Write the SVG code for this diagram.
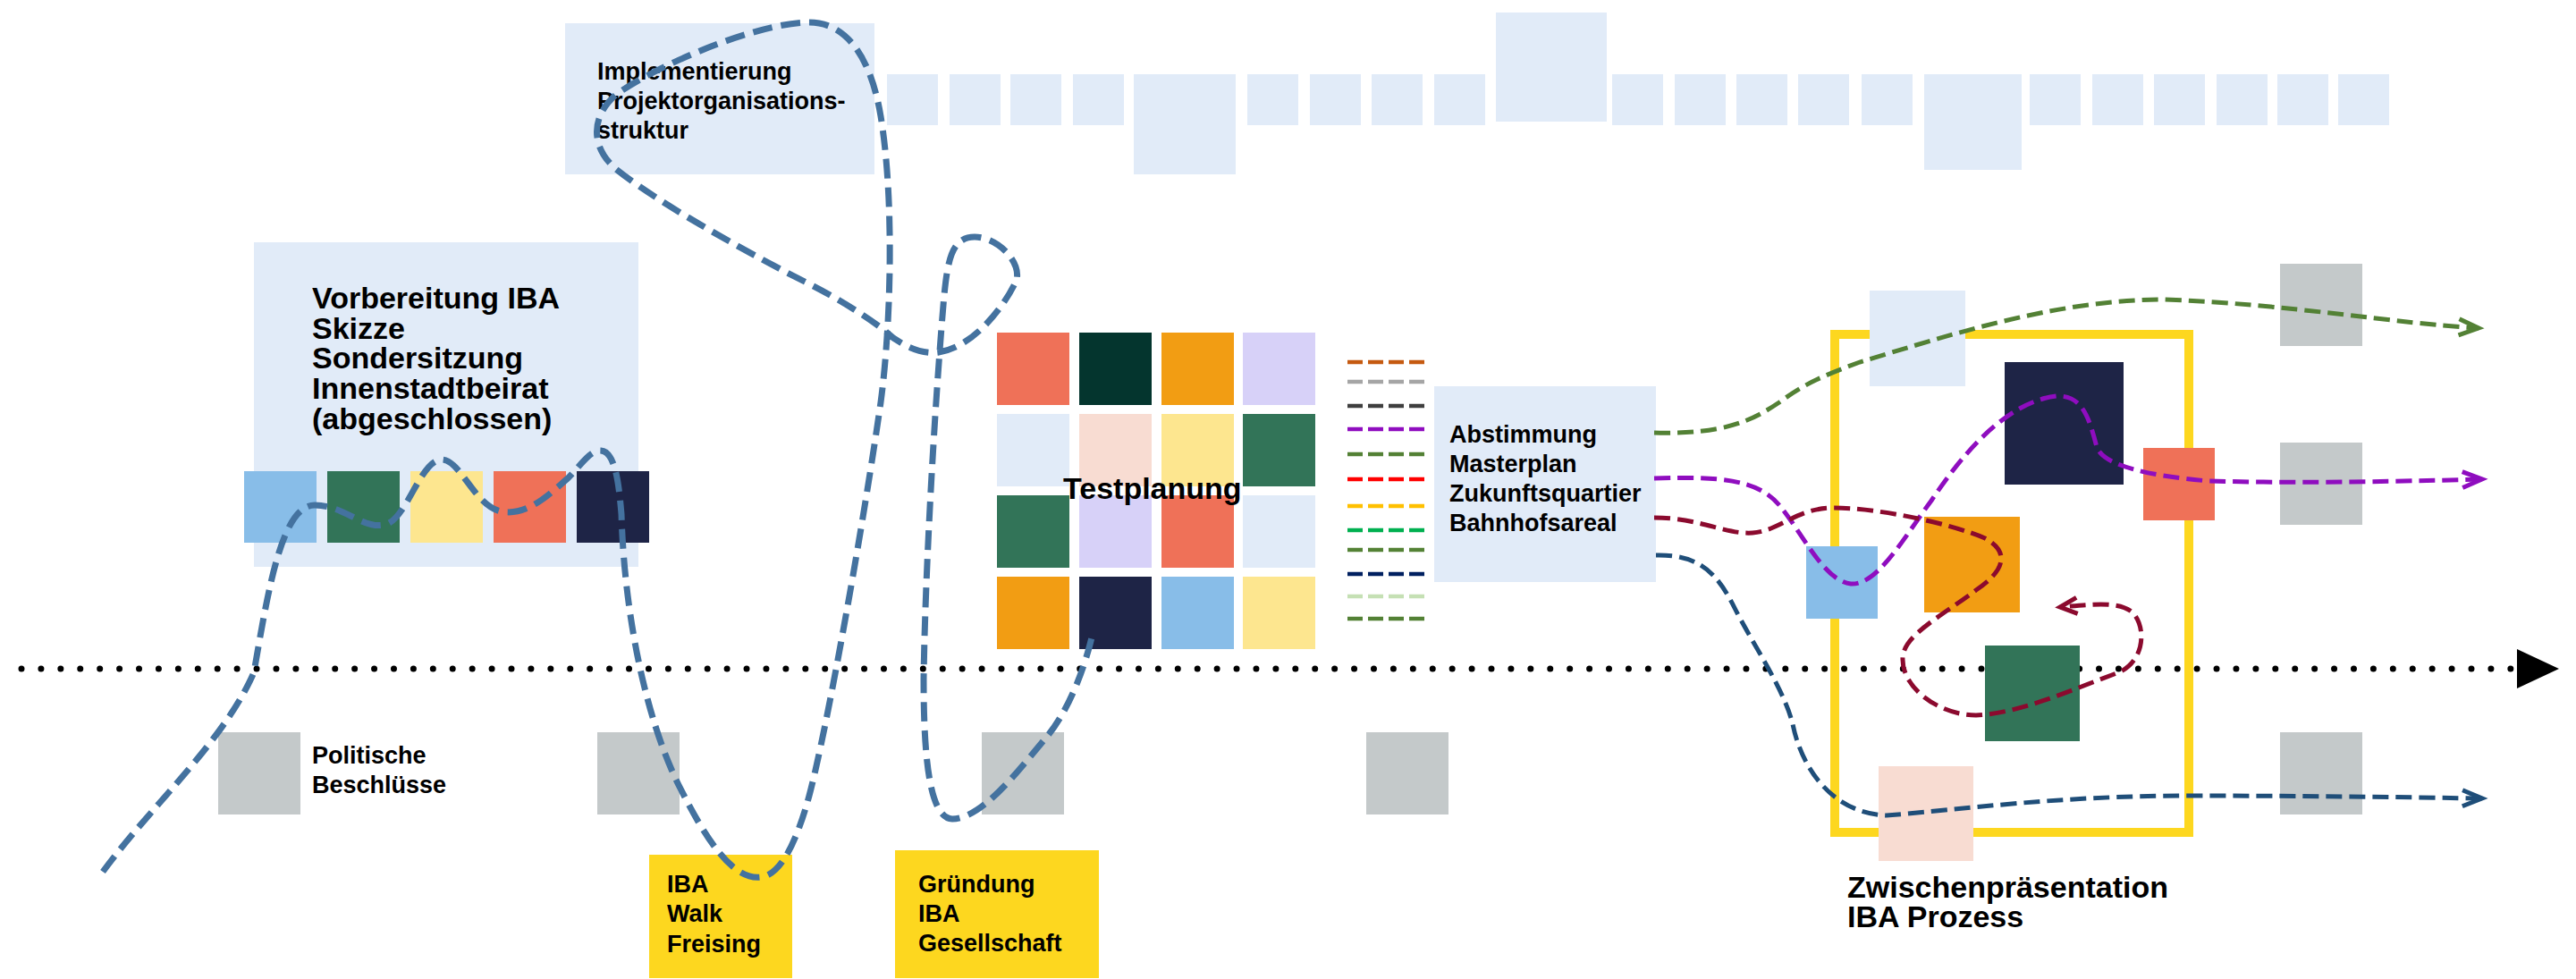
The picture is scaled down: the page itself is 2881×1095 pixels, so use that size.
<svg xmlns="http://www.w3.org/2000/svg" width="2881" height="1095" viewBox="0 0 2881 1095">
<style>
.lb{fill:#E1EBF8}
.gr{fill:#C4C9CA}
.yl{fill:#FDD71F}
.t{font-family:"Liberation Sans",Arial,sans-serif;font-weight:700;fill:#000}
.s{font-size:27px}
.b{font-size:34px}
.lg{fill:none;stroke-width:4.5;stroke-dasharray:17 6}
.cv{fill:none;stroke-width:5;stroke-dasharray:18 8}
</style>
<defs>
<marker id="ah-green" markerUnits="userSpaceOnUse" orient="auto" refX="0" refY="0" markerWidth="30" markerHeight="30" viewBox="-25 -15 30 30" overflow="visible"><path d="M-22,-9 L0,0 L-22,9" fill="none" stroke="#538135" stroke-width="5"/></marker>
<marker id="ah-purple" markerUnits="userSpaceOnUse" orient="auto" refX="0" refY="0" markerWidth="30" markerHeight="30" viewBox="-25 -15 30 30" overflow="visible"><path d="M-22,-9 L0,0 L-22,9" fill="none" stroke="#8F0DBF" stroke-width="5"/></marker>
<marker id="ah-red" markerUnits="userSpaceOnUse" orient="auto" refX="0" refY="0" markerWidth="30" markerHeight="30" viewBox="-25 -15 30 30" overflow="visible"><path d="M-19,-9 L0,0 L-19,9" fill="none" stroke="#8B0A2E" stroke-width="5"/></marker>
<marker id="ah-navy" markerUnits="userSpaceOnUse" orient="auto" refX="0" refY="0" markerWidth="30" markerHeight="30" viewBox="-25 -15 30 30" overflow="visible"><path d="M-22,-9 L0,0 L-22,9" fill="none" stroke="#1F4E79" stroke-width="5"/></marker>
</defs>
<rect width="2881" height="1095" fill="#fff"/>

<g id="top-squares" class="lb">
<rect x="992" y="83" width="57" height="57"/>
<rect x="1062" y="83" width="57" height="57"/>
<rect x="1130" y="83" width="57" height="57"/>
<rect x="1200" y="83" width="57" height="57"/>
<rect x="1268" y="83" width="114" height="112"/>
<rect x="1395" y="83" width="57" height="57"/>
<rect x="1465" y="83" width="57" height="57"/>
<rect x="1534" y="83" width="57" height="57"/>
<rect x="1604" y="83" width="57" height="57"/>
<rect x="1673" y="14" width="124" height="122"/>
<rect x="1803" y="83" width="57" height="57"/>
<rect x="1873" y="83" width="57" height="57"/>
<rect x="1942" y="83" width="57" height="57"/>
<rect x="2011" y="83" width="57" height="57"/>
<rect x="2082" y="83" width="57" height="57"/>
<rect x="2152" y="83" width="109" height="107"/>
<rect x="2270" y="83" width="57" height="57"/>
<rect x="2340" y="83" width="57" height="57"/>
<rect x="2409" y="83" width="57" height="57"/>
<rect x="2479" y="83" width="57" height="57"/>
<rect x="2547" y="83" width="57" height="57"/>
<rect x="2615" y="83" width="57" height="57"/>
</g>

<g id="implementierung">
<rect class="lb" x="632" y="26" width="346" height="169"/>
<text class="t s" x="668" y="89">Implementierung</text>
<text class="t s" x="668" y="122">Projektorganisations-</text>
<text class="t s" x="668" y="155">struktur</text>
</g>

<g id="vorbereitung">
<rect class="lb" x="284" y="271" width="430" height="363"/>
<text class="t b" x="349" y="345">Vorbereitung IBA</text>
<text class="t b" x="349" y="379">Skizze</text>
<text class="t b" x="349" y="412">Sondersitzung</text>
<text class="t b" x="349" y="446">Innenstadtbeirat</text>
<text class="t b" x="349" y="480">(abgeschlossen)</text>
</g>

<g id="timeline">
<line x1="24" y1="748" x2="2808" y2="748" stroke="#000" stroke-width="7" stroke-linecap="round" stroke-dasharray="0 21.92"/>
<polygon points="2815,726 2862,748 2815,770" fill="#000"/>
</g>

<g id="vorbereitung-squares">
<rect x="273" y="527" width="81" height="80" fill="#88BDE8"/>
<rect x="366" y="527" width="81" height="80" fill="#327458"/>
<rect x="459" y="527" width="81" height="80" fill="#FDE68F"/>
<rect x="552" y="527" width="81" height="80" fill="#EF7158"/>
<rect x="645" y="527" width="81" height="80" fill="#1E2446"/>
</g>

<g id="politische-beschluesse">
<rect class="gr" x="244" y="819" width="92" height="92"/>
<text class="t s" x="349" y="854">Politische</text>
<text class="t s" x="349" y="887">Beschlüsse</text>
</g>
<g id="gray-2"><rect class="gr" x="668" y="819" width="92" height="92"/></g>
<g id="gray-3"><rect class="gr" x="1098" y="819" width="92" height="92"/></g>
<g id="gray-4"><rect class="gr" x="1528" y="819" width="92" height="92"/></g>
<g id="gray-5"><rect class="gr" x="2550" y="295" width="92" height="92"/></g>
<g id="gray-6"><rect class="gr" x="2550" y="495" width="92" height="92"/></g>
<g id="gray-7"><rect class="gr" x="2550" y="819" width="92" height="92"/></g>

<g id="iba-walk">
<rect class="yl" x="726" y="956" width="160" height="138"/>
<text class="t s" x="746" y="998">IBA</text>
<text class="t s" x="746" y="1031">Walk</text>
<text class="t s" x="746" y="1065">Freising</text>
</g>

<g id="gruendung">
<rect class="yl" x="1001" y="951" width="228" height="143"/>
<text class="t s" x="1027" y="998">Gründung</text>
<text class="t s" x="1027" y="1031">IBA</text>
<text class="t s" x="1027" y="1064">Gesellschaft</text>
</g>

<g id="testplanung">
<rect x="1115" y="372" width="81" height="81" fill="#EF7158"/>
<rect x="1207" y="372" width="81" height="81" fill="#04352E"/>
<rect x="1299" y="372" width="81" height="81" fill="#F29D13"/>
<rect x="1390" y="372" width="81" height="81" fill="#D7D1F8"/>
<rect x="1115" y="463" width="81" height="81" fill="#E1EBF8"/>
<rect x="1207" y="463" width="81" height="81" fill="#F8DCD2"/>
<rect x="1299" y="463" width="81" height="81" fill="#FDE68F"/>
<rect x="1390" y="463" width="81" height="81" fill="#327458"/>
<rect x="1115" y="554" width="81" height="81" fill="#327458"/>
<rect x="1207" y="554" width="81" height="81" fill="#D7D1F8"/>
<rect x="1299" y="554" width="81" height="81" fill="#EF7158"/>
<rect x="1390" y="554" width="81" height="81" fill="#E1EBF8"/>
<rect x="1115" y="645" width="81" height="81" fill="#F29D13"/>
<rect x="1207" y="645" width="81" height="81" fill="#1E2446"/>
<rect x="1299" y="645" width="81" height="81" fill="#88BDE8"/>
<rect x="1390" y="645" width="81" height="81" fill="#FDE68F"/>
<text class="t b" x="1189" y="558">Testplanung</text>
</g>

<g id="legend">
<line class="lg" x1="1507" y1="405" x2="1594" y2="405" stroke="#C55A11"/>
<line class="lg" x1="1507" y1="427" x2="1594" y2="427" stroke="#A5A5A5"/>
<line class="lg" x1="1507" y1="454" x2="1594" y2="454" stroke="#3F3F3F"/>
<line class="lg" x1="1507" y1="480" x2="1594" y2="480" stroke="#8F0DBF"/>
<line class="lg" x1="1507" y1="508" x2="1594" y2="508" stroke="#538135"/>
<line class="lg" x1="1507" y1="536" x2="1594" y2="536" stroke="#FF0000"/>
<line class="lg" x1="1507" y1="566" x2="1594" y2="566" stroke="#FFC000"/>
<line class="lg" x1="1507" y1="593" x2="1594" y2="593" stroke="#00B050"/>
<line class="lg" x1="1507" y1="615" x2="1594" y2="615" stroke="#548235"/>
<line class="lg" x1="1507" y1="642" x2="1594" y2="642" stroke="#002060"/>
<line class="lg" x1="1507" y1="667" x2="1594" y2="667" stroke="#C5E0B4"/>
<line class="lg" x1="1507" y1="692" x2="1594" y2="692" stroke="#538135"/>
</g>

<g id="abstimmung">
<rect class="lb" x="1604" y="432" width="248" height="219"/>
<text class="t s" x="1621" y="495">Abstimmung</text>
<text class="t s" x="1621" y="528">Masterplan</text>
<text class="t s" x="1621" y="561">Zukunftsquartier</text>
<text class="t s" x="1621" y="594">Bahnhofsareal</text>
</g>

<g id="zwischenpraesentation">
<rect x="2052" y="374" width="396" height="557" fill="none" stroke="#FDD71F" stroke-width="10"/>
<rect class="lb" x="2091" y="325" width="107" height="107"/>
<rect x="2242" y="405" width="133" height="137" fill="#1E2446"/>
<rect x="2397" y="501" width="80" height="81" fill="#EF7158"/>
<rect x="2020" y="611" width="80" height="81" fill="#88BDE8"/>
<rect x="2152" y="578" width="107" height="107" fill="#F29D13"/>
<rect x="2220" y="722" width="106" height="107" fill="#327458"/>
<rect x="2101" y="857" width="106" height="106" fill="#F8DCD2"/>
<text class="t b" x="2066" y="1004">Zwischenpräsentation</text>
<text class="t b" x="2066" y="1037">IBA Prozess</text>
</g>

<g id="connectors">
<path fill="none" stroke="#44729F" stroke-width="7" stroke-dasharray="22 10" d="M115,975 C170,900 250,830 284,752 C300,660 315,565 352,565 C385,565 405,592 430,587 C455,582 470,514 494,514 C515,514 530,565 560,572 C590,578 615,552 635,535 C650,520 660,503 672,504 C688,505 692,540 695,575 C698,680 720,800 760,880 C790,940 820,985 851,981 C872,979 890,945 905,890 C925,815 965,590 985,450 C997,360 1000,220 985,130 C975,70 950,25 905,25 C850,25 740,70 690,105 C660,130 660,165 690,190 C740,230 850,290 900,315 C940,335 970,355 990,370 C1005,385 1030,397 1050,394 C1090,388 1125,340 1137,313 C1142,292 1115,265 1090,265 C1065,265 1060,290 1056,330 C1048,420 1035,620 1033,760 C1033,850 1040,915 1065,916 C1100,915 1140,860 1170,825 C1195,795 1212,750 1221,713"/>
<path class="cv" stroke="#538135" marker-end="url(#ah-green)" d="M1850,484 C1930,486 1960,470 1990,450 C2020,428 2040,420 2080,405 C2180,375 2300,335 2420,335 C2560,340 2680,362 2772,367"/>
<path class="cv" stroke="#8F0DBF" marker-end="url(#ah-purple)" d="M1850,535 C1920,533 1965,535 1990,565 C2015,595 2040,650 2070,653 C2100,655 2130,600 2160,560 C2190,515 2240,450 2300,443 C2328,442 2336,465 2345,500 C2352,520 2400,532 2470,538 C2580,541 2700,538 2776,536"/>
<path class="cv" stroke="#8B0A2E" stroke-width="5.5" marker-end="url(#ah-red)" d="M1850,579 C1900,579 1930,598 1960,596 C1990,594 2010,568 2050,568 C2100,568 2180,585 2220,602 C2250,618 2240,640 2210,660 C2170,690 2130,710 2128,735 C2126,770 2170,800 2210,800 C2260,798 2320,770 2370,752 C2400,738 2400,700 2385,685 C2370,672 2340,676 2304,679"/>
<path class="cv" stroke="#1F4E79" marker-end="url(#ah-navy)" d="M1852,621 C1900,620 1920,640 1940,680 C1960,720 1995,770 2005,810 C2015,860 2050,910 2110,912 C2200,905 2300,890 2450,890 C2600,890 2700,892 2776,893"/>
</g>
</svg>
